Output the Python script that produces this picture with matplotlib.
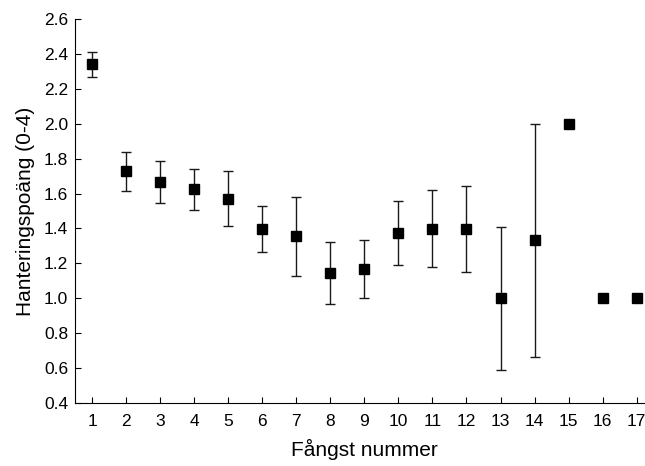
import matplotlib
matplotlib.use("Agg")
import matplotlib.pyplot as plt
from matplotlib.ticker import FormatStrFormatter

plt.rcParams['font.family'] = ['Liberation Sans', 'DejaVu Sans']

catch_number = [1, 2, 3, 4, 5, 6, 7, 8, 9, 10, 11, 12, 13, 14, 15, 16, 17]
mean_score = [2.34, 1.727, 1.665, 1.624, 1.570, 1.398, 1.355, 1.143, 1.166,
              1.375, 1.398, 1.398, 1.0, 1.333, 2.0, 1.0, 1.0]
err_score = [0.07, 0.11, 0.12, 0.117, 0.158, 0.133, 0.225, 0.178, 0.167,
             0.183, 0.22, 0.245, 0.41, 0.667, 0.0, 0.0, 0.0]
y_ticks = [0.4, 0.6, 0.8, 1.0, 1.2, 1.4, 1.6, 1.8, 2.0, 2.2, 2.4, 2.6]

fig = plt.figure(figsize=(6.45, 4.66), dpi=100)
ax = fig.add_axes([75/645, 1-403/466, (653.7-75)/645, (403-19)/466])

ax.errorbar(catch_number, mean_score, yerr=err_score, fmt='s', color='black',
            ecolor='#1a1a1a', elinewidth=1.0, capsize=3.5, capthick=1.0,
            markersize=7)

ax.set_xlim(0.5, 17.5)
ax.set_ylim(0.4, 2.6)
ax.set_xticks(catch_number)
ax.set_yticks(y_ticks)
ax.yaxis.set_major_formatter(FormatStrFormatter('%.1f'))
ax.spines['top'].set_visible(False)
ax.spines['right'].set_visible(False)
ax.tick_params(direction='in', length=4, width=0.8, labelsize=12.5)
ax.tick_params(axis='x', pad=8)
ax.tick_params(axis='y', pad=5)
ax.set_xlabel('Fångst nummer', fontsize=15, labelpad=7)
ax.set_ylabel('Hanteringspoäng (0-4)', fontsize=15, labelpad=6)

fig.savefig('out.png', dpi=100)
